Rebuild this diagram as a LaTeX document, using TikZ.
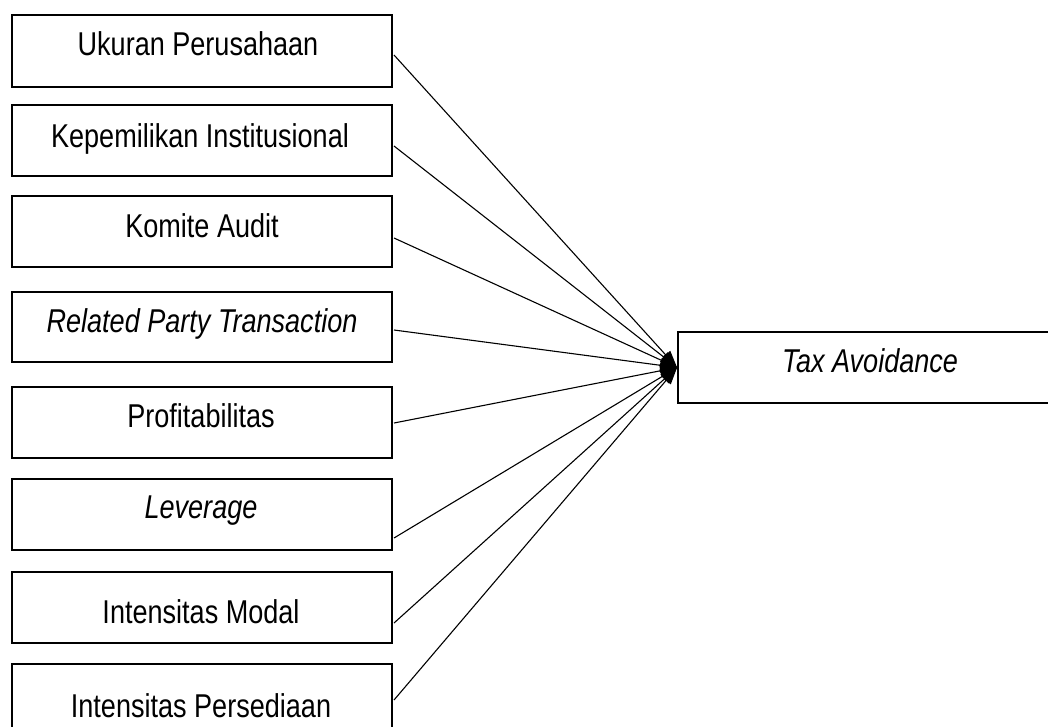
\documentclass[tikz,border=0pt]{standalone}
\usepackage{fontspec}
\usepackage{graphicx}
\setmainfont{Liberation Sans}
\usetikzlibrary{arrows.meta}
\newcommand{\narrowtxt}[1]{\scalebox{0.82}[1]{#1}}
\begin{document}
\begin{tikzpicture}[x=1pt,y=-1pt,
  box/.style={draw=black,line width=1.8pt,inner sep=0pt,minimum width=380pt,minimum height=71pt},
  lbl/.style={anchor=base,inner sep=0pt,font=\fontsize{33}{38}\selectfont},
  conn/.style={line width=1.1pt,-{Triangle[length=17pt,width=12pt]}}]
\useasboundingbox (0,0) rectangle (1048,726);
\clip (0,0) rectangle (1048,726);
% left boxes
\node[box,minimum height=72pt] (b1) at (202,51) {};
\node[box] (b2) at (202,140.5) {};
\node[box] (b3) at (202,231.5) {};
\node[box,minimum height=70pt] (b4) at (202,327) {};
\node[box] (b5) at (202,422.5) {};
\node[box] (b6) at (202,514.5) {};
\node[box] (b7) at (202,607.5) {};
\node[box,minimum height=72pt] (b8) at (202,700) {};
\node[lbl] (t1) at (198,55) {\narrowtxt{Ukuran Perusahaan}};
\node[lbl] (t2) at (200,147) {\narrowtxt{Kepemilikan Institusional}};
\node[lbl] (t3) at (202,237) {\narrowtxt{Komite Audit}};
\node[lbl] (t4) at (202,332) {\narrowtxt{\itshape Related Party Transaction}};
\node[lbl] (t5) at (201,427) {\narrowtxt{Profitabilitas}};
\node[lbl] (t6) at (201,518) {\narrowtxt{\itshape Leverage}};
\node[lbl] (t7) at (201,623) {\narrowtxt{Intensitas Modal}};
\node[lbl] (t8) at (201,717) {\narrowtxt{Intensitas Persediaan}};
% target box
\node[box,minimum width=390pt] (tax) at (873,367.5) {};
\node[lbl] (tt) at (870,372) {\narrowtxt{\itshape Tax Avoidance}};
% connector starts
\coordinate (s1) at (394,55);
\coordinate (s2) at (394,146);
\coordinate (s3) at (394,238);
\coordinate (s4) at (394,330);
\coordinate (s5) at (394,423);
\coordinate (s6) at (394,538);
\coordinate (s7) at (394,623);
\coordinate (s8) at (394,700);
\foreach \i in {1,...,8} \draw[conn] (s\i) -- (tax.west);
\end{tikzpicture}
\end{document}
